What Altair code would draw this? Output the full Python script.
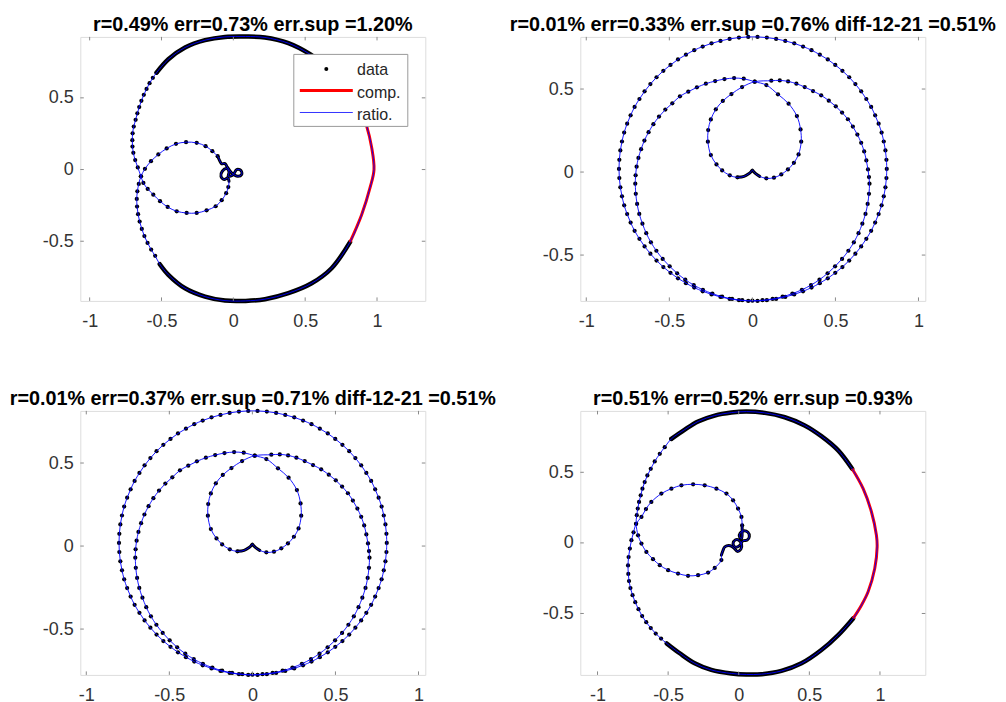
import altair as alt
import pandas as pd

FONT = "Liberation Sans"
FRAME = "#8a8a8a"

TITLES = [
    "r=0.49% err=0.73% err.sup =1.20%",
    "r=0.01% err=0.33% err.sup =0.76% diff-12-21 =0.51%",
    "r=0.01% err=0.37% err.sup =0.71% diff-12-21 =0.51%",
    "r=0.51% err=0.52% err.sup =0.93%",
]
X_TICKS = [-1, -0.5, 0, 0.5, 1]
Y_TICKS = [-0.5, 0, 0.5]
LEGEND_LABELS = ["data", "comp.", "ratio."]

P1_XLIM = [-1.065, 1.336]
P1_YLIM = [-0.916, 0.925]
P2_XLIM = [-1.036, 1.041]
P2_YLIM = [-0.776, 0.814]
P4_XLIM = [-1.122, 1.321]
P4_YLIM = [-0.935, 0.935]

# ---------------- panel 1 (top left) ----------------
P1_TOP = [(0.870, 0.455), (0.777, 0.594), (0.661, 0.711), (0.534, 0.804), (0.383, 0.881),
          (0.220, 0.921), (0.086, 0.928), (-0.058, 0.925), (-0.197, 0.902), (-0.336, 0.851),
          (-0.452, 0.769)]
P1_LEFT_UP = [(-0.534, 0.676), (-0.560, 0.640), (-0.583, 0.602), (-0.604, 0.562), (-0.623, 0.521),
              (-0.640, 0.479), (-0.655, 0.436), (-0.668, 0.392), (-0.680, 0.347), (-0.693, 0.300),
              (-0.701, 0.253), (-0.703, 0.205), (-0.702, 0.160), (-0.696, 0.117), (-0.683, 0.066),
              (-0.665, 0.015), (-0.643, -0.047)]
P1_IN_LOW = [(-0.626, -0.093), (-0.596, -0.135), (-0.557, -0.175), (-0.510, -0.221), (-0.457, -0.261),
             (-0.394, -0.291), (-0.325, -0.303), (-0.255, -0.303), (-0.186, -0.284), (-0.123, -0.256),
             (-0.081, -0.214), (-0.050, -0.165), (-0.035, -0.122)]
P1_SQ = [(-0.030, -0.082), (-0.039, -0.058), (-0.063, -0.070), (-0.086, -0.047), (-0.077, -0.012),
         (-0.046, 0.007), (-0.030, -0.016), (-0.035, -0.047), (0.000, -0.035), (0.023, 0.000),
         (0.053, -0.007), (0.058, -0.035), (0.030, -0.047), (-0.012, -0.023), (-0.046, 0.023),
         (-0.058, 0.042), (-0.081, 0.040), (-0.093, 0.058)]
P1_IN_UP = [(-0.109, 0.093), (-0.146, 0.128), (-0.193, 0.163), (-0.255, 0.186), (-0.329, 0.191),
            (-0.399, 0.179), (-0.464, 0.147), (-0.522, 0.105), (-0.573, 0.058), (-0.615, 0.005),
            (-0.643, -0.047)]
P1_LEFT_LOW = [(-0.658, -0.100), (-0.668, -0.152), (-0.672, -0.205), (-0.670, -0.258), (-0.663, -0.311),
               (-0.652, -0.363), (-0.637, -0.414), (-0.619, -0.464), (-0.597, -0.512), (-0.572, -0.558),
               (-0.544, -0.602)]
P1_BOTTOM = [(-0.512, -0.660), (-0.452, -0.734), (-0.336, -0.828), (-0.197, -0.886), (-0.058, -0.914),
             (0.086, -0.916), (0.220, -0.904), (0.383, -0.862), (0.545, -0.793), (0.684, -0.688)]
P1_RED = [(0.812, -0.506), (0.893, -0.315), (0.951, -0.128), (0.979, 0.000), (0.963, 0.152),
          (0.928, 0.303)]

# ---------------- panels 2 and 3 (same curves) ----------------
P2_OUTER = [
    (0.809, 0.019), (0.807, 0.074), (0.801, 0.130), (0.791, 0.184), (0.778, 0.238), (0.760, 0.291),
    (0.739, 0.342), (0.715, 0.392), (0.686, 0.440), (0.655, 0.486), (0.620, 0.530), (0.583, 0.571),
    (0.542, 0.610), (0.499, 0.645), (0.454, 0.678), (0.406, 0.707), (0.356, 0.734), (0.305, 0.756),
    (0.252, 0.775), (0.198, 0.790), (0.143, 0.802), (0.087, 0.810), (0.031, 0.814),
    (-0.025, 0.814), (-0.081, 0.810), (-0.137, 0.802), (-0.192, 0.790), (-0.246, 0.775),
    (-0.299, 0.756), (-0.350, 0.734), (-0.400, 0.707), (-0.448, 0.678), (-0.493, 0.645),
    (-0.536, 0.610), (-0.577, 0.571), (-0.614, 0.530), (-0.649, 0.486), (-0.680, 0.440),
    (-0.709, 0.392), (-0.733, 0.342), (-0.754, 0.291), (-0.772, 0.238), (-0.785, 0.184),
    (-0.795, 0.130), (-0.801, 0.074),
    (-0.803, 0.019), (-0.801, -0.036), (-0.795, -0.092), (-0.785, -0.146), (-0.772, -0.200),
    (-0.754, -0.253), (-0.733, -0.304), (-0.709, -0.354), (-0.680, -0.402), (-0.649, -0.448),
    (-0.614, -0.492), (-0.577, -0.533), (-0.536, -0.572), (-0.493, -0.607), (-0.448, -0.640),
    (-0.400, -0.669), (-0.350, -0.696), (-0.299, -0.718), (-0.246, -0.737), (-0.192, -0.752),
    (-0.137, -0.764), (-0.081, -0.772), (-0.025, -0.776),
    (0.031, -0.776), (0.087, -0.772), (0.143, -0.764), (0.198, -0.752), (0.252, -0.737),
    (0.305, -0.718), (0.356, -0.696), (0.406, -0.669), (0.454, -0.640), (0.499, -0.607),
    (0.542, -0.572), (0.583, -0.533), (0.620, -0.492), (0.655, -0.448), (0.686, -0.402),
    (0.715, -0.354), (0.739, -0.304), (0.760, -0.253), (0.778, -0.200), (0.791, -0.146),
    (0.801, -0.092), (0.807, -0.036)]
P2_MID_LEFT = [(-0.705, -0.070), (-0.703, -0.020), (-0.697, 0.032), (-0.686, 0.085), (-0.670, 0.138),
               (-0.650, 0.190), (-0.625, 0.240), (-0.596, 0.288), (-0.562, 0.334), (-0.524, 0.376),
               (-0.482, 0.414), (-0.436, 0.456), (-0.386, 0.484), (-0.334, 0.510), (-0.280, 0.532),
               (-0.224, 0.548), (-0.168, 0.560), (-0.110, 0.566), (-0.052, 0.562), (0.014, 0.544)]
P2_HEART_R = [(0.084, 0.524), (0.154, 0.468), (0.218, 0.412), (0.268, 0.337), (0.290, 0.257),
              (0.294, 0.183), (0.278, 0.106), (0.250, 0.056), (0.214, 0.016), (0.174, -0.014),
              (0.130, -0.034), (0.084, -0.038)]
P2_CUSP = [(0.044, -0.026), (0.020, -0.010), (0.008, 0.002), (0.000, 0.012), (-0.008, 0.002),
           (-0.022, -0.010), (-0.050, -0.026)]
P2_HEART_L = [(-0.090, -0.032), (-0.136, -0.020), (-0.182, 0.010), (-0.216, 0.046), (-0.250, 0.102),
              (-0.268, 0.183), (-0.266, 0.253), (-0.250, 0.317), (-0.220, 0.378), (-0.178, 0.428),
              (-0.126, 0.470), (-0.062, 0.512), (0.014, 0.544)]
P2_MID_RIGHT = [(0.114, 0.550), (0.165, 0.552), (0.215, 0.546), (0.265, 0.532), (0.315, 0.512),
                (0.365, 0.488), (0.414, 0.462), (0.460, 0.430), (0.502, 0.396), (0.540, 0.358),
                (0.575, 0.318), (0.605, 0.274), (0.632, 0.226), (0.655, 0.176), (0.673, 0.124),
                (0.686, 0.070), (0.696, 0.016), (0.702, -0.030)]
P2_MID_LOW = [(0.705, -0.070), (0.702, -0.131), (0.694, -0.192), (0.681, -0.252), (0.662, -0.311),
              (0.639, -0.368), (0.611, -0.423), (0.578, -0.474), (0.540, -0.523), (0.498, -0.568),
              (0.453, -0.610), (0.404, -0.648), (0.353, -0.681), (0.298, -0.709), (0.241, -0.732),
              (0.182, -0.751), (0.122, -0.764), (0.061, -0.772), (0.000, -0.775), (-0.061, -0.772),
              (-0.122, -0.764), (-0.182, -0.751), (-0.241, -0.732), (-0.298, -0.709), (-0.353, -0.681),
              (-0.404, -0.648), (-0.453, -0.610), (-0.498, -0.568), (-0.540, -0.523), (-0.578, -0.474),
              (-0.611, -0.423), (-0.639, -0.368), (-0.662, -0.311), (-0.681, -0.252), (-0.694, -0.192),
              (-0.702, -0.131)]

# ---------------- panel 4 (bottom right) ----------------
P4_TOP = [(0.803, 0.525), (0.704, 0.655), (0.585, 0.756), (0.467, 0.832), (0.326, 0.890),
          (0.184, 0.921), (0.054, 0.930), (-0.052, 0.923), (-0.170, 0.902), (-0.288, 0.860),
          (-0.382, 0.803)]
P4_LEFT_UP = [(-0.477, 0.737), (-0.524, 0.678), (-0.559, 0.631), (-0.595, 0.577), (-0.623, 0.525),
              (-0.647, 0.478), (-0.666, 0.431), (-0.682, 0.384), (-0.694, 0.337), (-0.706, 0.290),
              (-0.715, 0.243), (-0.722, 0.196), (-0.727, 0.135)]
P4_IN_LOW = [(-0.713, 0.054), (-0.689, -0.005), (-0.654, -0.064), (-0.607, -0.115), (-0.559, -0.158),
             (-0.500, -0.193), (-0.430, -0.217), (-0.359, -0.233), (-0.288, -0.229), (-0.217, -0.210),
             (-0.170, -0.177), (-0.123, -0.122)]
P4_SQ = [(-0.123, -0.087), (-0.111, -0.052), (-0.099, -0.028), (-0.060, -0.020), (-0.030, -0.040),
         (-0.010, -0.060), (0.015, -0.045), (0.020, -0.010), (0.000, 0.020), (-0.025, 0.020),
         (-0.040, -0.005), (-0.025, -0.030), (0.005, -0.020), (0.030, 0.015), (0.060, 0.020),
         (0.075, 0.045), (0.065, 0.075), (0.035, 0.085), (0.010, 0.070), (0.005, 0.045),
         (0.020, 0.030), (0.024, 0.090)]
P4_IN_UP = [(0.024, 0.125), (0.019, 0.184), (-0.005, 0.243), (-0.040, 0.302), (-0.087, 0.349),
            (-0.158, 0.384), (-0.241, 0.408), (-0.323, 0.415), (-0.406, 0.408), (-0.477, 0.384),
            (-0.548, 0.349), (-0.619, 0.290), (-0.657, 0.240), (-0.689, 0.184), (-0.727, 0.135)]
P4_LEFT_LOW = [(-0.745, 0.075), (-0.760, 0.019), (-0.771, -0.040), (-0.780, -0.100), (-0.784, -0.160),
               (-0.782, -0.220), (-0.777, -0.270), (-0.767, -0.320), (-0.752, -0.370), (-0.733, -0.420),
               (-0.710, -0.470), (-0.684, -0.518), (-0.655, -0.562), (-0.623, -0.603), (-0.588, -0.642),
               (-0.550, -0.678)]
P4_BOTTOM = [(-0.510, -0.712), (-0.418, -0.782), (-0.312, -0.853), (-0.194, -0.900), (-0.052, -0.925),
             (0.054, -0.932), (0.161, -0.930), (0.302, -0.907), (0.444, -0.853), (0.585, -0.759),
             (0.704, -0.653)]
P4_RED = [(0.810, -0.535), (0.869, -0.441), (0.916, -0.346), (0.963, -0.181), (0.980, -0.028),
          (0.975, 0.054), (0.940, 0.219), (0.881, 0.384)]

# curve structure: s = separate dots, d = dots packed into a band, q = packed tangle, r = comp.
PATHS1 = [[("d", P1_TOP), ("s", P1_LEFT_UP), ("s", P1_IN_LOW), ("q", P1_SQ), ("s", P1_IN_UP),
           ("s", P1_LEFT_LOW), ("d", P1_BOTTOM), ("r", P1_RED)]]
PATHS2 = [[("s", P2_OUTER)],
          [("s", P2_MID_LEFT), ("s", P2_HEART_R), ("q", P2_CUSP), ("s", P2_HEART_L),
           ("s", P2_MID_RIGHT), ("s", P2_MID_LOW)]]
PATHS4 = [[("d", P4_TOP), ("s", P4_LEFT_UP), ("s", P4_IN_LOW), ("q", P4_SQ), ("s", P4_IN_UP),
           ("s", P4_LEFT_LOW), ("d", P4_BOTTOM), ("r", P4_RED)]]

W, H = 345, 264
TL = 3.5
BAND_W = {"d": 4.5, "q": 3.0}


def frames(paths):
    line, band, red, dots = [], [], [], []
    for g, pieces in enumerate(paths):
        allp = [p for _, pts in pieces for p in pts]
        closed = allp + [allp[0]]
        for i, (x, y) in enumerate(closed):
            line.append({"x": x, "y": y, "o": i, "g": str(g)})
        n = len(pieces)
        for k, (kind, pts) in enumerate(pieces):
            nxt = pieces[(k + 1) % n][1][0]
            seg = list(pts) + [nxt]
            if kind == "s":
                dots += [{"x": x, "y": y} for x, y in pts]
            elif kind == "r":
                red += [{"x": x, "y": y, "o": i, "g": f"{g}-{k}"} for i, (x, y) in enumerate(seg)]
            else:
                band += [{"x": x, "y": y, "o": i, "g": f"{g}-{k}", "w": BAND_W[kind]}
                         for i, (x, y) in enumerate(seg)]
    return pd.DataFrame(line), pd.DataFrame(band), pd.DataFrame(red), pd.DataFrame(dots)


LABEL_EXPR = "datum.value < 0 ? '-' + toString(-datum.value) : toString(datum.value)"


def panel(paths, xlim, ylim, title, legend=False):
    line, band, red, dots = frames(paths)
    ax = alt.Axis(values=X_TICKS, labelExpr=LABEL_EXPR, ticks=False, domain=False, grid=False,
                  title=None, labelFont=FONT, labelFontSize=18, labelColor="#333333",
                  labelPadding=12, labelFlush=False, labelOverlap=False)
    ay = alt.Axis(values=Y_TICKS, labelExpr=LABEL_EXPR, ticks=False, domain=False, grid=False,
                  title=None, labelFont=FONT, labelFontSize=18, labelColor="#333333",
                  labelPadding=7, labelFlush=False, labelOverlap=False)
    X = alt.X("x:Q", scale=alt.Scale(domain=xlim, nice=False, zero=False), axis=ax)
    Y = alt.Y("y:Q", scale=alt.Scale(domain=ylim, nice=False, zero=False), axis=ay)
    layers = []
    if len(band):
        layers.append(alt.Chart(band).mark_line(color="black", interpolate="catmull-rom",
                                                strokeCap="round", strokeJoin="round").encode(
            x=X, y=Y, order="o:Q", detail="g:N", strokeWidth=alt.StrokeWidth("w:Q", scale=None)))
    layers.append(alt.Chart(dots).mark_circle(color="black", size=18, opacity=1).encode(x=X, y=Y))
    if len(red):
        layers.append(alt.Chart(red).mark_line(color="#ff0000", strokeWidth=3,
                                               interpolate="catmull-rom").encode(
            x=X, y=Y, order="o:Q", detail="g:N"))
    layers.append(alt.Chart(line).mark_line(color="#0000ff", strokeWidth=0.9,
                                            interpolate="catmull-rom").encode(
        x=X, y=Y, order="o:Q", detail="g:N"))
    tx = pd.DataFrame({"x": X_TICKS})
    ty = pd.DataFrame({"y": Y_TICKS})
    rx = alt.Chart(tx).mark_rule(color=FRAME, strokeWidth=1)
    ry = alt.Chart(ty).mark_rule(color=FRAME, strokeWidth=1)
    layers += [
        rx.encode(x=X, y=alt.value(H), y2=alt.value(H - TL)),
        rx.encode(x=X, y=alt.value(0), y2=alt.value(TL)),
        ry.encode(y=Y, x=alt.value(0), x2=alt.value(TL)),
        ry.encode(y=Y, x=alt.value(W), x2=alt.value(W - TL)),
    ]
    one = pd.DataFrame({"k": [0]})
    if legend:
        layers += [
            alt.Chart(one).mark_rect(fill="white", stroke="#9a9a9a", strokeWidth=1).encode(
                x=alt.value(213.5), x2=alt.value(327.5), y=alt.value(17.5), y2=alt.value(89.5)),
            alt.Chart(one).mark_circle(color="black", size=16, opacity=1).encode(
                x=alt.value(246), y=alt.value(32)),
            alt.Chart(one).mark_rule(color="#ff0000", strokeWidth=3).encode(
                x=alt.value(219.5), x2=alt.value(272.5), y=alt.value(53.6)),
            alt.Chart(one).mark_rule(color="#0000ff", strokeWidth=0.8).encode(
                x=alt.value(219.5), x2=alt.value(272.5), y=alt.value(75.6)),
        ]
        for lab, yy in zip(LEGEND_LABELS, [33.6, 55.8, 78.0]):
            layers.append(alt.Chart(one).mark_text(align="left", baseline="middle", font=FONT,
                                                   fontSize=16, color="#262626").encode(
                x=alt.value(276.7), y=alt.value(yy), text=alt.value(lab)))
    # panel title, placed just above the frame
    layers.append(alt.Chart(one).mark_text(align="center", baseline="alphabetic", font=FONT,
                                           fontSize=19.8, fontWeight="bold", color="black").encode(
        x=alt.value(W / 2), y=alt.value(-5.5), text=alt.value(title)))
    return alt.layer(*layers).properties(width=W, height=H)


p1 = panel(PATHS1, P1_XLIM, P1_YLIM, TITLES[0], legend=True)
p2 = panel(PATHS2, P2_XLIM, P2_YLIM, TITLES[1])
p3 = panel(PATHS2, P2_XLIM, P2_YLIM, TITLES[2])
p4 = panel(PATHS4, P4_XLIM, P4_YLIM, TITLES[3])

chart = alt.concat(p1, p2, p3, p4, columns=2, spacing={"row": 110, "column": 155},
                   bounds="flush").properties(
    padding={"left": 8.3, "top": 14.9, "right": 0, "bottom": 0}
).configure_view(stroke=FRAME, strokeWidth=1).configure(background="white")

chart.save("out.html", embed_options={"renderer": "svg", "actions": False})
